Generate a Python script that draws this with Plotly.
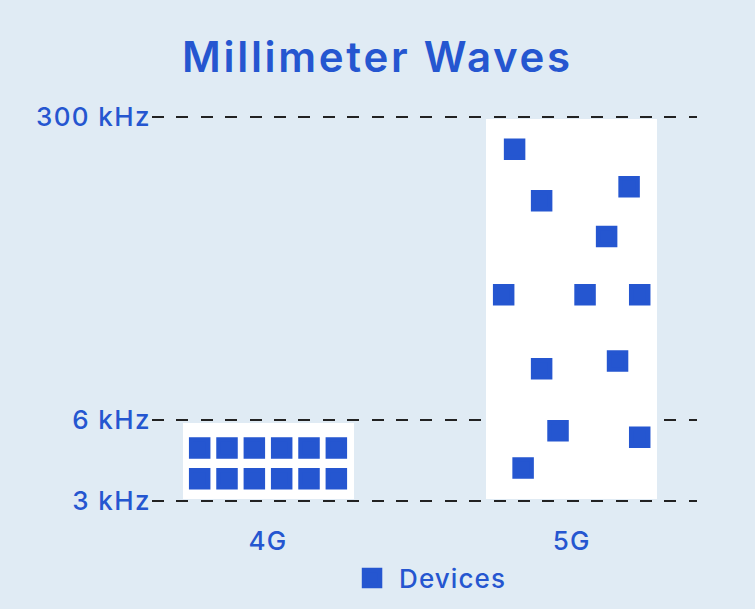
import plotly.graph_objects as go

# ---- data ----
categories = ["4G", "5G"]
cat_pos = [0, 1]
tick_labels = ["3 kHz", "6 kHz", "300 kHz"]
tick_pos = [0, 1, 4.74]          # band positions on the (non-linear) frequency scale
band_bottom = [0.02, 0.02]
band_top = [0.965, 4.71]

# device markers: offset within band (x) and level on the frequency scale (y)
dev_4g_x = [-0.225, -0.135, -0.045, 0.045, 0.135, 0.225,
            -0.225, -0.135, -0.045, 0.045, 0.135, 0.225]
dev_4g_y = [0.651] * 6 + [0.272] * 6
dev_5g_x = [-0.188, 0.189, -0.099, 0.115, -0.224, 0.044, 0.224,
            -0.099, 0.151, -0.045, 0.224, -0.160]
dev_5g_y = [4.340, 3.877, 3.704, 3.263, 2.543, 2.543, 2.543,
            1.630, 1.726, 0.864, 0.784, 0.405]

BLUE = "#2556d0"
BG = "#e0ebf4"
FONT = "Inter, Roboto, sans-serif"


def spaced(s, px):
    return f'<span style="letter-spacing:{px}px">{s}</span>'


dev_x = [cat_pos[0] + v for v in dev_4g_x] + [cat_pos[1] + v for v in dev_5g_x]
dev_y = dev_4g_y + dev_5g_y

fig = go.Figure()
fig.add_trace(go.Bar(
    x=cat_pos, y=[t - b for t, b in zip(band_top, band_bottom)], base=band_bottom,
    width=0.563, marker=dict(color="white", line=dict(width=0)),
    showlegend=False, hoverinfo="skip",
))
fig.add_trace(go.Scatter(
    x=dev_x, y=dev_y, mode="markers", name=spaced("Devices", 1.1),
    marker=dict(symbol="square", size=17, color=BLUE,
                line=dict(color=BLUE, width=4.5)),
))

W, H = 755, 609
fig.update_layout(
    width=W, height=H,
    paper_bgcolor=BG, plot_bgcolor=BG,
    margin=dict(l=152, r=58, t=104, b=92),
    font=dict(family=FONT, color=BLUE, size=26, weight=500),
    title=dict(text=spaced("Millimeter Waves", 2.7), x=0.5, xref="container", xanchor="center",
               y=1 - 57 / H, yref="container", yanchor="middle",
               font=dict(family=FONT, size=42, color=BLUE, weight=600)),
    showlegend=True,
    legend=dict(orientation="h", x=0.3542, xanchor="left",
                y=1 - 578 / H, yref="container", yanchor="middle",
                itemwidth=44,
                font=dict(size=26, color=BLUE, family=FONT, weight=500),
                bgcolor="rgba(0,0,0,0)"),
    bargap=0,
)
fig.update_xaxes(range=[-0.382, 1.4126], tickvals=cat_pos,
                 ticktext=[spaced(c, 1.2) for c in categories],
                 showgrid=False, zeroline=False, showline=False, ticks="",
                 automargin=False,
                 tickfont=dict(size=26, color=BLUE, weight=500), ticklabelstandoff=6)
fig.update_yaxes(range=[-0.2, 4.9], tickvals=tick_pos,
                 ticktext=[spaced(t, 1.4) for t in tick_labels],
                 showgrid=True, gridcolor="#222222", gridwidth=2,
                 griddash="12px,12.4px", zeroline=False, showline=False, ticks="",
                 automargin=False,
                 tickfont=dict(size=26, color=BLUE, weight=500))

fig.write_html("out.html")
